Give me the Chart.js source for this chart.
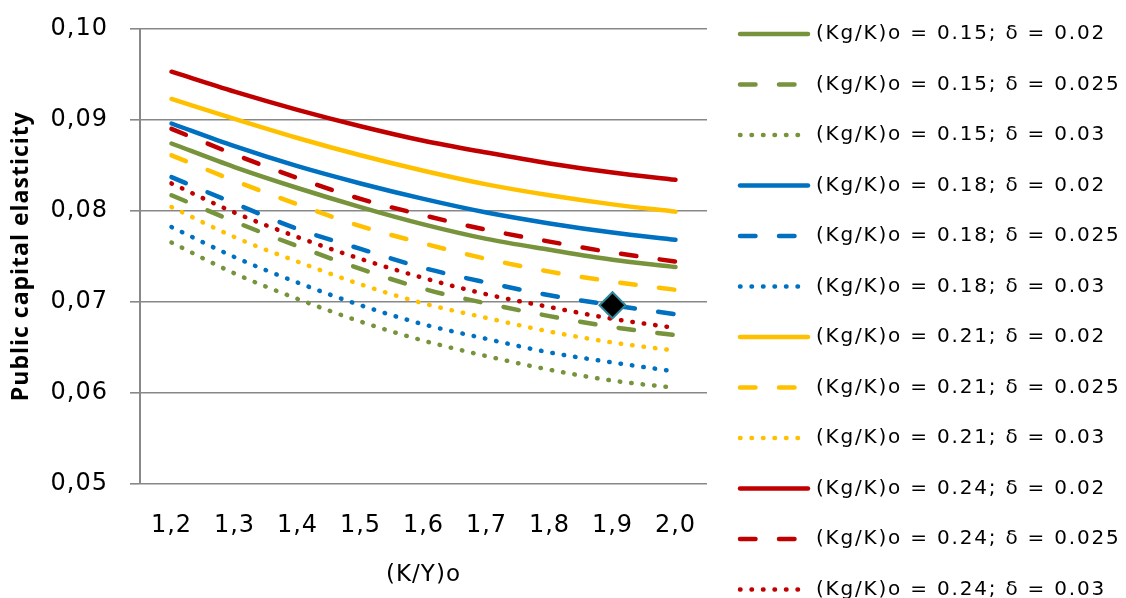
<!DOCTYPE html>
<html>
<head>
<meta charset="utf-8">
<title>Public capital elasticity</title>
<script src="https://cdn.jsdelivr.net/npm/chart.js@4/dist/chart.umd.min.js"></script>
<style>
  html, body { margin: 0; padding: 0; background: #fff; }
  #wrap { width: 1126px; height: 598px; position: relative; }
</style>
</head>
<body>
<div id="wrap"><canvas id="chart"></canvas></div>
<script>
// x categories: (K/Y)o
const categories = ['1,2', '1,3', '1,4', '1,5', '1,6', '1,7', '1,8', '1,9', '2,0'];

// y axis ticks
const yTicks = [0.05, 0.06, 0.07, 0.08, 0.09, 0.10];

// (Kg/K)o = 0.15
const green002 = [0.0874, 0.0848, 0.0825, 0.0804, 0.0785, 0.0769, 0.0757, 0.0746, 0.0738];
const green0025 = [0.0817, 0.0788, 0.0761, 0.0736, 0.0714, 0.0698, 0.0684, 0.0672, 0.0663];
const green003 = [0.0765, 0.0731, 0.0703, 0.0678, 0.0657, 0.0640, 0.0625, 0.0613, 0.0605];
// (Kg/K)o = 0.18
const blue002 = [0.0896, 0.0871, 0.0849, 0.0830, 0.0813, 0.0798, 0.0786, 0.0776, 0.0768];
const blue0025 = [0.0837, 0.0808, 0.0780, 0.0758, 0.0737, 0.0721, 0.0707, 0.0696, 0.0686];
const blue003 = [0.0782, 0.0749, 0.0721, 0.0696, 0.0675, 0.0659, 0.0644, 0.0633, 0.0623];
// (Kg/K)o = 0.21
const yellow002 = [0.0923, 0.0901, 0.0880, 0.0861, 0.0844, 0.0829, 0.0817, 0.0807, 0.0799];
const yellow0025 = [0.0861, 0.0833, 0.0807, 0.0783, 0.0764, 0.0747, 0.0733, 0.0722, 0.0713];
const yellow003 = [0.0804, 0.0771, 0.0744, 0.0719, 0.0698, 0.0682, 0.0667, 0.0655, 0.0646];
// (Kg/K)o = 0.24
const red002 = [0.0953, 0.0931, 0.0911, 0.0893, 0.0877, 0.0864, 0.0852, 0.0842, 0.0834];
const red0025 = [0.0890, 0.0862, 0.0836, 0.0813, 0.0795, 0.0779, 0.0766, 0.0754, 0.0744];
const red003 = [0.0830, 0.0798, 0.0771, 0.0747, 0.0726, 0.0708, 0.0694, 0.0681, 0.0671];

// highlighted point (black diamond)
const markerPoint = [null, null, null, null, null, null, null, 0.0696, null];

const GREEN = '#77933C';
const BLUE = '#0070C0';
const YELLOW = '#FFC000';
const RED = '#C00000';

const DASH = [15.5, 23.5];
const DOT = [0.5, 11];

function line(label, data, color, dash) {
  return {
    label,
    data,
    borderColor: color,
    backgroundColor: color,
    borderWidth: 4.5,
    borderDash: dash,
    borderCapStyle: 'round',
    borderJoinStyle: 'round',
    pointRadius: 0,
    pointHoverRadius: 0,
    cubicInterpolationMode: 'monotone',
    fill: false,
    inLegend: true,
  };
}

const datasets = [
  line('(Kg/K)o = 0.15; δ = 0.02', green002, GREEN, []),
  line('(Kg/K)o = 0.15; δ = 0.025', green0025, GREEN, DASH),
  line('(Kg/K)o = 0.15; δ = 0.03', green003, GREEN, DOT),
  line('(Kg/K)o = 0.18; δ = 0.02', blue002, BLUE, []),
  line('(Kg/K)o = 0.18; δ = 0.025', blue0025, BLUE, DASH),
  line('(Kg/K)o = 0.18; δ = 0.03', blue003, BLUE, DOT),
  line('(Kg/K)o = 0.21; δ = 0.02', yellow002, YELLOW, []),
  line('(Kg/K)o = 0.21; δ = 0.025', yellow0025, YELLOW, DASH),
  line('(Kg/K)o = 0.21; δ = 0.03', yellow003, YELLOW, DOT),
  line('(Kg/K)o = 0.24; δ = 0.02', red002, RED, []),
  line('(Kg/K)o = 0.24; δ = 0.025', red0025, RED, DASH),
  line('(Kg/K)o = 0.24; δ = 0.03', red003, RED, DOT),
  {
    label: 'marker',
    data: markerPoint,
    showLine: false,
    pointStyle: 'rectRot',
    pointRadius: 13,
    pointHoverRadius: 13,
    pointBackgroundColor: '#000',
    pointBorderColor: '#31859C',
    pointBorderWidth: 2,
    order: -1,
    inLegend: false,
  },
];

// a bit of tracking on all chart text, like the original
const textSpacing = {
  id: 'textSpacing',
  beforeInit(chart) { chart.ctx.letterSpacing = '1px'; },
  beforeDraw(chart) { chart.ctx.letterSpacing = '1px'; },
};

// legend drawn by hand on the right so dashed samples look like the original
const sideLegend = {
  id: 'sideLegend',
  afterDraw(chart) {
    const ctx = chart.ctx;
    const x0 = 740, x1 = 808, textX = 816, rowTop = 34, rowStep = 50.5;
    let row = 0;
    chart.data.datasets.forEach((ds) => {
      if (!ds.inLegend) return;
      const y = rowTop + row * rowStep;
      ctx.save();
      ctx.strokeStyle = ds.borderColor;
      ctx.lineWidth = ds.borderWidth;
      ctx.lineCap = 'round';
      ctx.setLineDash(ds.borderDash || []);
      ctx.beginPath();
      ctx.moveTo(x0, y);
      ctx.lineTo(x1, y);
      ctx.stroke();
      ctx.setLineDash([]);
      ctx.fillStyle = '#000';
      ctx.font = '20px "DejaVu Sans"';
      ctx.letterSpacing = '1.8px';
      ctx.textBaseline = 'middle';
      ctx.textAlign = 'left';
      ctx.fillText(ds.label, textX, y);
      ctx.restore();
      row++;
    });
  },
};

new Chart(document.getElementById('chart'), {
  type: 'line',
  data: { labels: categories, datasets },
  plugins: [textSpacing, sideLegend],
  options: {
    responsive: true,
    maintainAspectRatio: false,
    animation: false,
    events: [],
    layout: { padding: { top: 29, right: 419, bottom: 0, left: 0 } },
    plugins: {
      legend: { display: false },
      tooltip: { enabled: false },
    },
    scales: {
      x: {
        offset: true,
        grid: { display: false, drawTicks: false },
        border: { display: false },
        ticks: {
          color: '#000',
          font: { family: 'DejaVu Sans', size: 24 },
          padding: 28,
          maxRotation: 0,
          autoSkip: false,
        },
        title: {
          display: true,
          text: '(K/Y)o',
          color: '#000',
          font: { family: 'DejaVu Sans', size: 23 },
          padding: { top: 0, bottom: 9 },
        },
        afterFit(scale) { scale.height = 114.7; },
      },
      y: {
        min: 0.05,
        max: 0.10,
        afterBuildTicks(scale) { scale.ticks = yTicks.map((v) => ({ value: v })); },
        grid: {
          color: '#888888',
          lineWidth: 1.6,
          drawTicks: true,
          tickLength: 10,
          tickColor: '#888888',
        },
        border: { display: true, color: '#888888', width: 2 },
        ticks: {
          color: '#000',
          font: { family: 'DejaVu Sans', size: 24 },
          padding: 22,
          callback: (v) => v.toFixed(2).replace('.', ','),
        },
        title: {
          display: true,
          text: 'Public capital elasticity',
          color: '#000',
          font: { family: 'Open Sans', size: 23, weight: 'bold' },
          padding: { top: 8, bottom: 0 },
        },
        afterFit(scale) {
          scale.width = 140;
          scale.paddingTop = 0;
          scale.paddingBottom = 0;
        },
      },
    },
  },
});
</script>
</body>
</html>
